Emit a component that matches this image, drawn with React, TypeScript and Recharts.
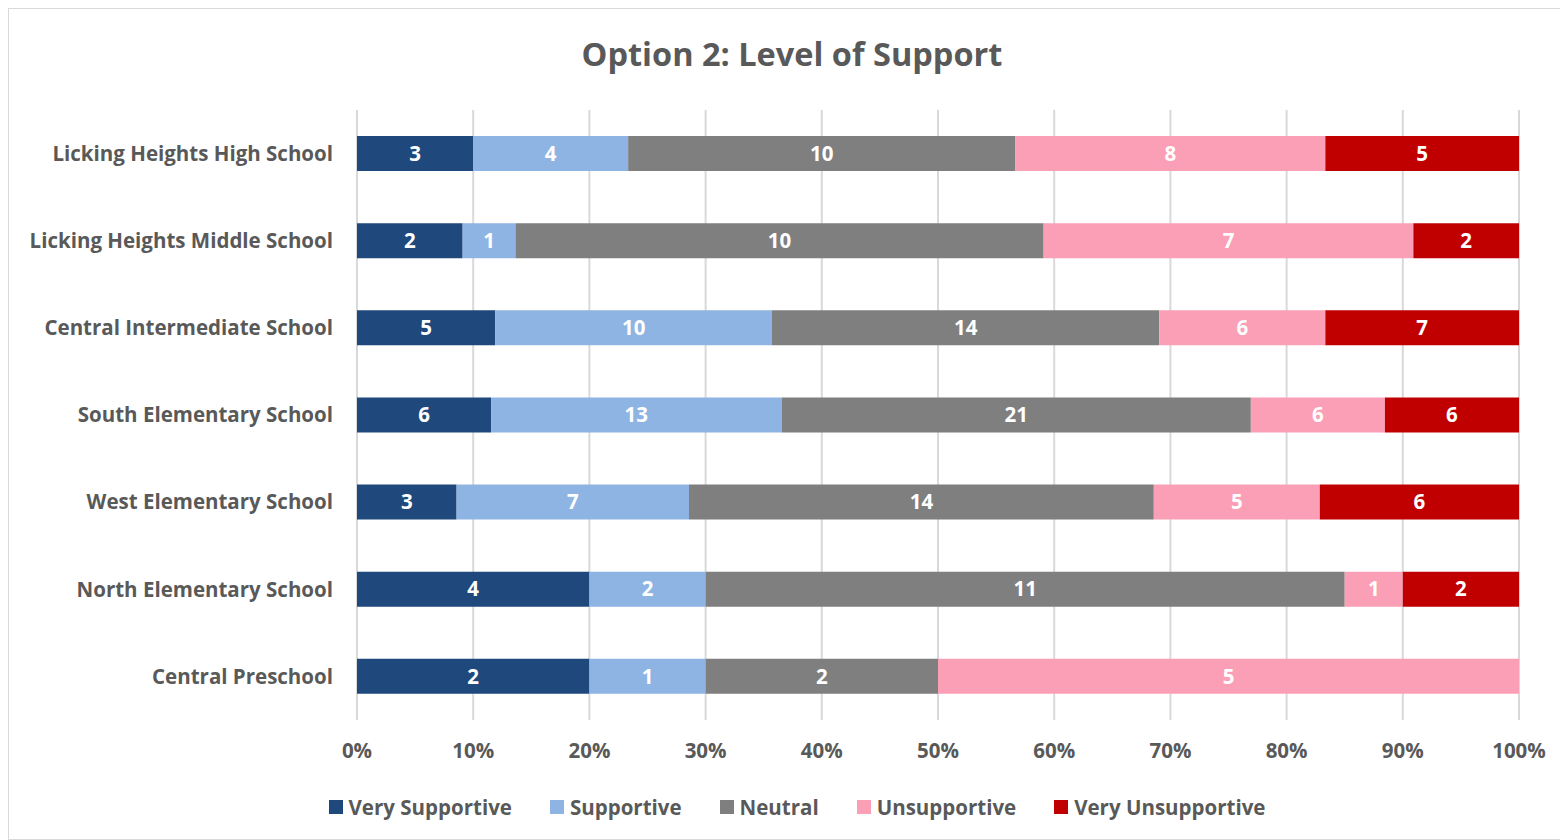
import React from "react";
import {
  BarChart,
  Bar,
  XAxis,
  YAxis,
  CartesianGrid,
  Legend,
  LabelList,
} from "recharts";

const schools = [
  "Licking Heights High School",
  "Licking Heights Middle School",
  "Central Intermediate School",
  "South Elementary School",
  "West Elementary School",
  "North Elementary School",
  "Central Preschool",
];

const verySupportive = [3, 2, 5, 6, 3, 4, 2];
const supportive = [4, 1, 10, 13, 7, 2, 1];
const neutral = [10, 10, 14, 21, 14, 11, 2];
const unsupportive = [8, 7, 6, 6, 5, 1, 5];
const veryUnsupportive = [5, 2, 7, 6, 6, 2, 0];

const xTicks = [0, 0.1, 0.2, 0.3, 0.4, 0.5, 0.6, 0.7, 0.8, 0.9, 1];

const series = [
  { key: "verySupportive", name: "Very Supportive", color: "#1F497D" },
  { key: "supportive", name: "Supportive", color: "#8EB4E3" },
  { key: "neutral", name: "Neutral", color: "#7F7F7F" },
  { key: "unsupportive", name: "Unsupportive", color: "#FA9FB5" },
  { key: "veryUnsupportive", name: "Very Unsupportive", color: "#C00000" },
];

const data = schools.map((name, i) => ({
  name,
  verySupportive: verySupportive[i],
  supportive: supportive[i],
  neutral: neutral[i],
  unsupportive: unsupportive[i],
  veryUnsupportive: veryUnsupportive[i],
}));

const FONT = "'Open Sans', Lato, sans-serif";
const TEXT = "#595959";
const FS = 20.5;

function LegendContent() {
  return (
    <div
      style={{
        display: "flex",
        justifyContent: "center",
        alignItems: "center",
        height: 24,
        fontFamily: FONT,
        fontWeight: 700,
        fontSize: FS,
        color: TEXT,
        gap: 38,
        paddingLeft: 66,
      }}
    >
      {series.map((s) => (
        <div key={s.key} style={{ display: "flex", alignItems: "center" }}>
          <span
            style={{
              display: "inline-block",
              width: 14,
              height: 14,
              background: s.color,
              marginRight: 6,
            }}
          />
          {s.name}
        </div>
      ))}
    </div>
  );
}

export default function App() {
  return (
    <div
      style={{
        position: "relative",
        width: 1558,
        height: 830,
        border: "1px solid #d9d9d9",
        background: "#fff",
        fontFamily: FONT,
      }}
    >
      <div
        style={{
          position: "absolute",
          top: 22,
          left: 4,
          width: 1558,
          textAlign: "center",
          fontSize: 32.5,
          fontWeight: 700,
          color: TEXT,
        }}
      >
        Option 2: Level of Support
      </div>
      <BarChart
        width={1558}
        height={830}
        data={data}
        layout="vertical"
        stackOffset="expand"
        barSize={35}
        margin={{ top: 101, right: 48, bottom: 20, left: 0 }}
      >
        <CartesianGrid
          horizontal={false}
          stroke="#d9d9d9"
          strokeWidth={2}
        />
        <XAxis
          type="number"
          domain={[0, 1]}
          ticks={xTicks}
          tickFormatter={(v: number) => `${Math.round(v * 100)}%`}
          axisLine={false}
          tickLine={false}
          tickMargin={17}
          height={75}
          interval={0}
          tick={{ fill: TEXT, fontSize: FS, fontWeight: 700, fontFamily: FONT }}
        />
        <YAxis
          type="category"
          dataKey="name"
          width={348}
          axisLine={false}
          tickLine={false}
          tickMargin={18}
          interval={0}
          tick={{ fill: TEXT, fontSize: FS, fontWeight: 700, fontFamily: FONT }}
        />
        <Legend verticalAlign="bottom" content={<LegendContent />} />
        {series.map((s) => (
          <Bar
            key={s.key}
            dataKey={s.key}
            name={s.name}
            stackId="a"
            fill={s.color}
            isAnimationActive={false}
          >
            <LabelList
              dataKey={s.key}
              position="center"
              fill="#ffffff"
              style={{ fontSize: FS, fontWeight: 700, fontFamily: FONT }}
            />
          </Bar>
        ))}
      </BarChart>
    </div>
  );
}
